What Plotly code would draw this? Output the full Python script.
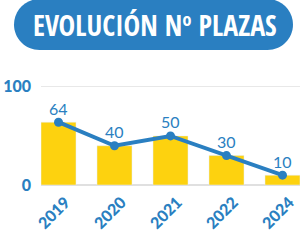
import plotly.graph_objects as go

years = ["2019", "2020", "2021", "2022", "2024"]
plazas = [64, 40, 50, 30, 10]
y_ticks = [0, 100]
y_tick_labels = ["0", "100"]
title_text = "EVOLUCIÓN Nº PLAZAS"

BLUE = "#2a7fc1"
YELLOW = "#fdd20f"

W, H = 300, 240
L, R, T, B = 41, 0, 81, 55
PW, PH = W - L - R, H - T - B


def px_to_paper(x, y):
    return (x - L) / PW, (H - B - y) / PH


def pill_path(x0, y0, x1, y1):
    r = (y1 - y0) / 2
    k = 0.5523 * r
    def P(x, y):
        px, py = px_to_paper(x, y)
        return f"{px:.5f},{py:.5f}"
    d = f"M {P(x0 + r, y0)} L {P(x1 - r, y0)} "
    d += f"C {P(x1 - r + k, y0)} {P(x1, y0 + r - k)} {P(x1, y0 + r)} "
    d += f"C {P(x1, y0 + r + k)} {P(x1 - r + k, y1)} {P(x1 - r, y1)} "
    d += f"L {P(x0 + r, y1)} "
    d += f"C {P(x0 + r - k, y1)} {P(x0, y1 - r + k)} {P(x0, y1 - r)} "
    d += f"C {P(x0, y0 + r - k)} {P(x0 + r - k, y0)} {P(x0 + r, y0)} Z"
    return d


xs = list(range(len(years)))
fig = go.Figure()
fig.add_trace(go.Bar(x=xs, y=plazas, marker_color=YELLOW, width=0.625, hoverinfo="skip"))
fig.add_trace(go.Scatter(x=xs, y=plazas, mode="lines+markers",
                         line=dict(color=BLUE, width=4), marker=dict(color=BLUE, size=9),
                         cliponaxis=False))
for xv, v in zip(xs, plazas):
    fig.add_annotation(x=xv, y=v, text=str(v), showarrow=False, yshift=14,
                       xanchor="center", yanchor="middle",
                       font=dict(family="Lato", size=16, color=BLUE))

fig.add_shape(type="path", xref="paper", yref="paper", path=pill_path(14, -1, 293, 50),
              fillcolor=BLUE, line=dict(width=0), layer="above")
tx, ty = px_to_paper(155, 25)
fig.add_annotation(x=tx, y=ty, xref="paper", yref="paper", text=title_text, showarrow=False,
                   font=dict(family="Open Sans Condensed", size=28, color="white", weight="bold"),
                   xanchor="center", yanchor="middle")

fig.update_layout(
    width=W, height=H, margin=dict(l=L, r=R, t=T, b=B),
    paper_bgcolor="white", plot_bgcolor="white", showlegend=False,
    xaxis=dict(tickmode="array", tickvals=xs, ticktext=years,
               range=[-0.3125, 4.3125], tickangle=-45, showgrid=False, zeroline=False,
               showline=False, ticks="", ticklabelshift=7, ticklabelstandoff=4,
               tickfont=dict(family="Lato", size=16, color=BLUE, weight=900)),
    yaxis=dict(range=[0, 106], tickmode="array", tickvals=y_ticks, ticktext=y_tick_labels,
               showgrid=True, gridcolor="#e8e8e8", gridwidth=1, zeroline=True,
               zerolinecolor="#e0e0e0", zerolinewidth=2, ticks="", ticklabelstandoff=9,
               tickfont=dict(family="Lato", size=16, color=BLUE, weight=900)),
)

fig.write_html("out.html")
